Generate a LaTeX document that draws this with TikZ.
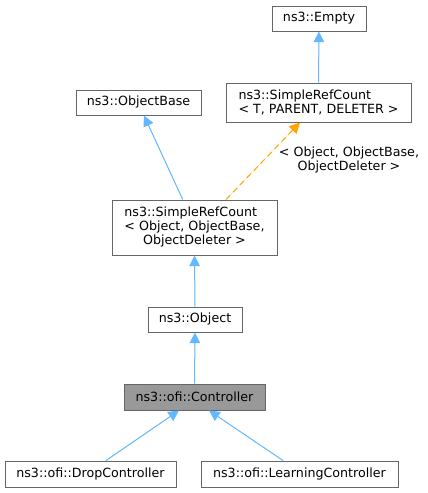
\documentclass[tikz,border=0pt]{standalone}
\usepackage{fontspec}
\setmainfont{DejaVu Sans}
\usepackage{calc}
\usetikzlibrary{arrows.meta}
\definecolor{edgeblue}{HTML}{63B8FF}
\definecolor{edgeorange}{HTML}{FFA500}
\definecolor{boxline}{HTML}{666666}
\definecolor{boxfill}{HTML}{999999}
\begin{document}
\begin{tikzpicture}[x=0.75pt,y=-0.75pt,
  cls/.style={draw=boxline,line width=0.75pt,fill=white,inner sep=0pt,
    font=\fontsize{9.5pt}{10.5pt}\selectfont,align=center},
  inh/.style={draw=edgeblue,line width=0.75pt,-{Triangle[width=8pt,length=8pt]},fill=edgeblue},
  tmpl/.style={draw=edgeorange,line width=0.75pt,dash pattern=on 4.5pt off 3pt,-{Triangle[width=8pt,length=8pt]},fill=edgeorange},
  lbl/.style={font=\fontsize{9.5pt}{10.5pt}\selectfont,align=center,inner sep=0pt}]
\useasboundingbox (0,0) rectangle (428,493);
\node[cls,minimum width=94*0.75pt,minimum height=25*0.75pt] (empty) at (319,18.5) {ns3::Empty};
\node[cls,minimum width=185*0.75pt,minimum height=39*0.75pt,align=left] (srcT) at (318.5,102.5) {ns3::SimpleRefCount\\< T, PARENT, DELETER >};
\node[cls,minimum width=125*0.75pt,minimum height=25*0.75pt] (obase) at (138.5,102.5) {ns3::ObjectBase};
\node[cls,minimum width=165*0.75pt,minimum height=55*0.75pt] (srcO) at (194.5,227.5) {\makebox[\widthof{< Object, ObjectBase,}][l]{ns3::SimpleRefCount}\\< Object, ObjectBase,\\ObjectDeleter >};
\node[cls,minimum width=94*0.75pt,minimum height=25*0.75pt] (obj) at (195,319.5) {ns3::Object};
\node[cls,fill=boxfill,minimum width=141*0.75pt,minimum height=26*0.75pt] (ctrl) at (194.5,397) {ns3::ofi::Controller};
\node[cls,minimum width=171*0.75pt,minimum height=26*0.75pt] (drop) at (90.5,474) {ns3::ofi::DropController};
\node[cls,minimum width=197*0.75pt,minimum height=26*0.75pt] (learn) at (299.5,474) {ns3::ofi::LearningController};
\draw[inh] (srcT.north) -- (empty.south);
\draw[inh] ([xshift=-11.8*0.75pt]srcO.north) -- ([xshift=5.5*0.75pt]obase.south);
\draw[tmpl] ([xshift=31.5*0.75pt]srcO.north) -- ([xshift=-18.5*0.75pt]srcT.south);
\node[lbl] (tlbl) at (349,160) {< Object, ObjectBase,\\ObjectDeleter >};
\draw[inh] (obj.north) -- (srcO.south);
\draw[inh] (ctrl.north) -- (obj.south);
\draw[inh] ([xshift=15.5*0.75pt]drop.north) -- ([xshift=-15.5*0.75pt]ctrl.south);
\draw[inh] ([xshift=-16.5*0.75pt]learn.north) -- ([xshift=14.5*0.75pt]ctrl.south);
\end{tikzpicture}
\end{document}
